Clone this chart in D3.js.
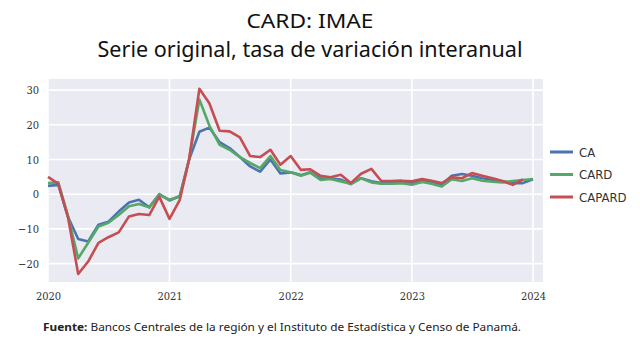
<!DOCTYPE html>
<html>
<head>
<meta charset="utf-8">
<script src="https://cdn.jsdelivr.net/npm/d3@7"></script>
<style>
  body { margin: 0; background: #fff; }
  svg { display: block; }
  .title { font-family: "Noto Sans", sans-serif; fill: #111; }
  .tick text { font-family: "DejaVu Serif", serif; font-stretch: condensed; font-size: 11px; fill: #333; }
  .legend text { font-family: "DejaVu Sans", sans-serif; font-stretch: condensed; font-size: 13px; fill: #333; }
  .foot { font-family: "Noto Sans", sans-serif; font-size: 11px; fill: #222; }
</style>
</head>
<body>
<div id="chart"></div>
<script>
// monthly data, Jan 2020 onward
let startMonth = "2020-01";
let seriesNames = ["CA", "CARD", "CAPARD"];
let seriesColors = ["#4C72B0", "#55A868", "#C44E52"];

let caValues = [
    2.4, 2.7, -6.5, -12.9, -13.6, -8.8, -7.9, -5.0, -2.4, -1.6, -3.8, 0.0,
    -1.8, -0.5, 10.0, 18.0, 19.2, 15.0, 13.3, 10.7, 8.0, 6.5, 10.0, 6.0,
    6.3, 5.5, 6.3, 4.5, 4.5, 4.2, 2.9, 4.6, 3.7, 3.2, 3.2, 3.4,
    3.2, 4.1, 3.5, 2.7, 5.3, 5.8, 5.3, 4.6, 4.1, 3.7, 3.2, 3.2,
    4.3
];
let cardValues = [
    3.2, 3.4, -6.2, -18.5, -14.0, -9.3, -8.2, -6.0, -3.5, -2.8, -3.8, -0.2,
    -1.6, -0.7, 10.0, 27.3, 19.8, 14.2, 12.8, 10.7, 9.0, 7.5, 11.0, 7.0,
    6.3, 5.3, 6.2, 4.1, 4.4, 3.7, 3.0, 4.6, 3.4, 3.0, 3.0, 3.2,
    2.7, 3.5, 3.0, 2.2, 4.3, 3.8, 4.6, 3.9, 3.6, 3.4, 3.8, 4.1,
    4.4
];
let capardValues = [
    5.0, 3.0, -6.5, -23.0, -19.4, -14.0, -12.4, -11.0, -6.4, -5.7, -6.0, -0.7,
    -7.1, -1.6, 10.0, 30.4, 26.2, 18.3, 18.1, 16.4, 11.0, 10.7, 12.8, 8.5,
    11.0, 7.0, 7.2, 5.3, 4.9, 5.6, 3.2, 5.9, 7.3, 3.8, 3.8, 3.9,
    3.7, 4.4, 3.9, 3.2, 4.9, 4.6, 6.1, 5.3, 4.6, 3.8, 2.7, 4.3
];

let yTicks = [-20, -10, 0, 10, 20, 30];
let xTickYears = [2020, 2021, 2022, 2023, 2024];

let width = 640, height = 352;
let margin = {top: 79, right: 97, bottom: 70, left: 48};
let plotW = width - margin.left - margin.right;
let plotH = height - margin.top - margin.bottom;

let svg = d3.select("#chart").append("svg")
    .attr("width", width)
    .attr("height", height);

// titles
svg.append("text").attr("class", "title")
    .attr("x", 310).attr("y", 28)
    .attr("text-anchor", "middle")
    .attr("font-size", 19)
    .attr("textLength", 127).attr("lengthAdjust", "spacingAndGlyphs")
    .text("CARD: IMAE");
svg.append("text").attr("class", "title")
    .attr("x", 310).attr("y", 57)
    .attr("text-anchor", "middle")
    .attr("font-size", 22)
    .attr("textLength", 425).attr("lengthAdjust", "spacingAndGlyphs")
    .text("Serie original, tasa de variación interanual");

let parseMonth = d3.timeParse("%Y-%m");
let t0 = parseMonth(startMonth);
let monthDate = i => d3.timeMonth.offset(t0, i);

let x = d3.scaleTime()
    .domain([t0, new Date(2024, 0, 31)])
    .range([0, plotW]);
let y = d3.scaleLinear()
    .domain([-25.3, 33.2])
    .range([plotH, 0]);

let g = svg.append("g").attr("transform", `translate(${margin.left},${margin.top})`);

g.append("rect")
    .attr("width", plotW).attr("height", plotH)
    .attr("fill", "#EAEAF2");

// grid
g.append("g").selectAll("line").data(yTicks).join("line")
    .attr("x1", 0).attr("x2", plotW)
    .attr("y1", d => y(d)).attr("y2", d => y(d))
    .attr("stroke", "#fff").attr("stroke-width", 1.6);
g.append("g").selectAll("line").data(xTickYears).join("line")
    .attr("x1", d => x(new Date(d, 0, 1))).attr("x2", d => x(new Date(d, 0, 1)))
    .attr("y1", 0).attr("y2", plotH)
    .attr("stroke", "#fff").attr("stroke-width", 1.6);

// axes
let yAxis = d3.axisLeft(y).tickValues(yTicks).tickSize(0).tickPadding(9)
    .tickFormat(d => d < 0 ? "\u2212" + Math.abs(d) : d);
g.append("g").call(yAxis).call(a => a.select(".domain").remove());

let xAxis = d3.axisBottom(x)
    .tickValues(xTickYears.map(d => new Date(d, 0, 1)))
    .tickSize(0).tickPadding(10)
    .tickFormat(d3.timeFormat("%Y"));
g.append("g").attr("transform", `translate(0,${plotH})`).call(xAxis)
    .call(a => a.select(".domain").remove());

// lines
let line = d3.line()
    .x((d, i) => x(monthDate(i)))
    .y(d => y(d));

let allSeries = [caValues, cardValues, capardValues];
g.append("g").selectAll("path").data(allSeries).join("path")
    .attr("d", d => line(d))
    .attr("fill", "none")
    .attr("stroke", (d, i) => seriesColors[i])
    .attr("stroke-width", 2.6)
    .attr("stroke-linejoin", "round");

// legend
let legend = svg.append("g").attr("class", "legend")
    .attr("transform", "translate(550,152)");
let item = legend.selectAll("g").data(seriesNames).join("g")
    .attr("transform", (d, i) => `translate(0,${i * 22.5})`);
item.append("line")
    .attr("x1", 0).attr("x2", 23)
    .attr("stroke", (d, i) => seriesColors[i])
    .attr("stroke-width", 3);
item.append("text")
    .attr("x", 29).attr("dy", "0.35em")
    .text(d => d);

// source note
let foot = svg.append("text").attr("class", "foot")
    .attr("x", 43).attr("y", 331)
    .attr("textLength", 478).attr("lengthAdjust", "spacingAndGlyphs");
foot.append("tspan").attr("font-weight", "bold").text("Fuente:");
foot.append("tspan").text(" Bancos Centrales de la región y el Instituto de Estadística y Censo de Panamá.");
</script>
</body>
</html>
